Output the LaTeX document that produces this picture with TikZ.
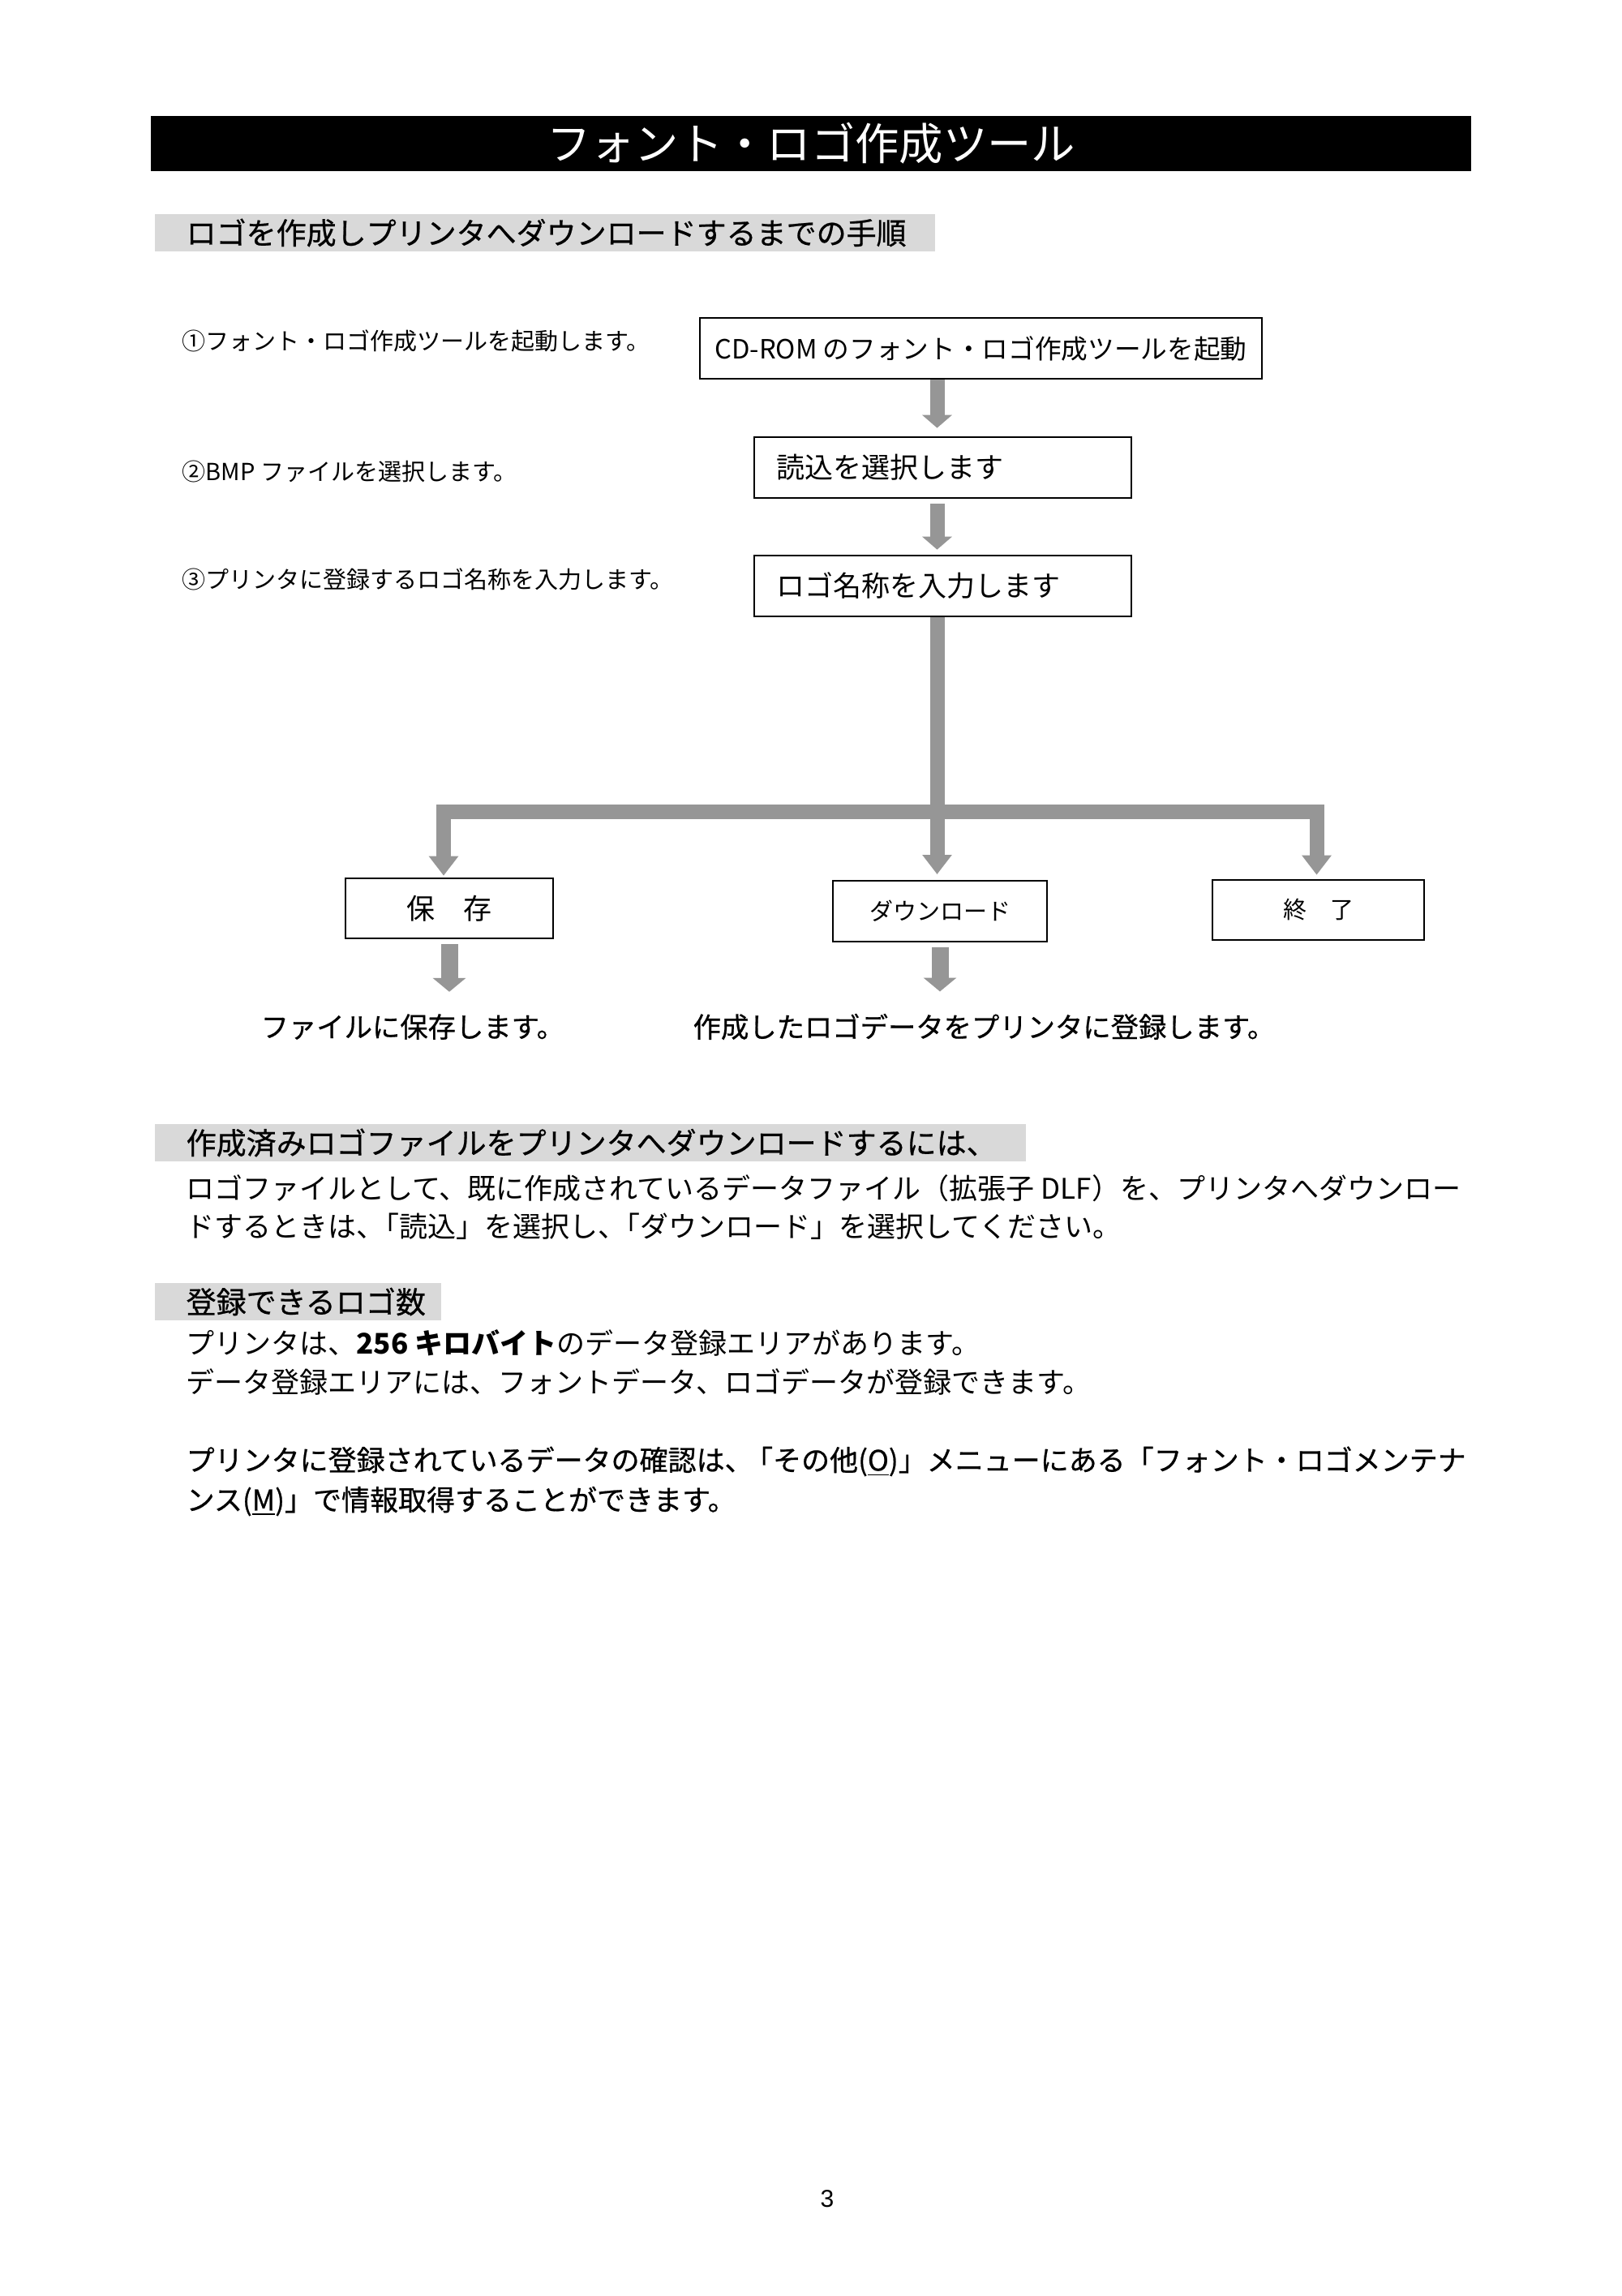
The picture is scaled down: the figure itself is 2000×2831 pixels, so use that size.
\documentclass[tikz,border=0pt]{standalone}
\usepackage{fontspec}
\usepackage{xcolor}
\usepackage{tikz}
\usetikzlibrary{arrows.meta}
\setmainfont{Noto Sans CJK JP}
\newfontfamily\medfont{Noto Sans CJK JP}[FakeBold=0.6]
\newfontfamily\numfont{Liberation Sans}
\definecolor{arrowgray}{RGB}{150,150,150}
\definecolor{hdrgray}{RGB}{217,217,217}
\newcommand{\setfs}[1]{\fontsize{#1}{#1}\selectfont}

\begin{document}
\begin{tikzpicture}[x=0.3pt, y=-0.3pt, every node/.style={inner sep=0pt}]
    \tikzstyle{box}=[draw=black, line width=0.8pt, fill=white, minimum height=22.5pt, align=center]
    \tikzstyle{hdr}=[fill=hdrgray, anchor=west, inner xsep=11.7pt, minimum height=13.8pt, align=left, font=\medfont\setfs{11.1pt}]
    \tikzstyle{line}=[anchor=west, font=\setfs{10.5pt}]
    \tikzstyle{stepnote}=[anchor=west, font=\setfs{8.7pt}]
    \tikzstyle{fat}=[draw=arrowgray, line width=5.4pt, line join=miter]
    \tikzstyle{fatb}=[draw=arrowgray, line width=6.3pt, -{Triangle[width=12pt, length=5.1pt]}, shorten <=1.8pt, shorten >=8pt]
    \useasboundingbox (0,0) rectangle (2000,2831);
    \node[fill=black, text=white, minimum width=488.4pt, minimum height=20.4pt, font=\setfs{16.3pt}] (title) at (1000,177) {フォント・ロゴ作成ツール};
    \node[hdr, text width=265.2pt] (hdrsteps) at (190,287) {ロゴを作成しプリンタへダウンロードするまでの手順};
    \node[stepnote] (note1) at (224,420) {①フォント・ロゴ作成ツールを起動します。};
    \node[stepnote] (note2) at (224,581) {②BMP ファイルを選択します。};
    \node[stepnote] (note3) at (224,714) {③プリンタに登録するロゴ名称を入力します。};
    \node[box, minimum width=207.9pt, font=\setfs{9.8pt}] (start) at (1209.5,429.5) {CD-ROM のフォント・ロゴ作成ツールを起動};
    \node[box, text width=123.3pt, inner xsep=8.1pt, align=left, font=\setfs{10.5pt}] (load) at (1162.5,576.5) {読込を選択します};
    \node[box, text width=123.3pt, inner xsep=8.1pt, align=left, font=\setfs{10.5pt}] (name) at (1162.5,722.5) {ロゴ名称を入力します};
    \node[box, minimum width=76.8pt, minimum height=22.2pt, font=\setfs{10.5pt}] (save) at (554,1120) {保　存};
    \node[box, minimum width=79.2pt, font=\setfs{8.7pt}] (dload) at (1159,1123.5) {ダウンロード};
    \node[box, minimum width=78.3pt, minimum height=22.2pt, font=\setfs{8.7pt}] (quit) at (1625.5,1122) {終　了};
    \node[anchor=west, font=\medfont\setfs{10.3pt}] (savetxt) at (321,1266) {ファイルに保存します。};
    \node[anchor=west, font=\medfont\setfs{10.3pt}] (regtxt) at (854,1266) {作成したロゴデータをプリンタに登録します。};
    \coordinate (spine) at (1155.5,0);
    \coordinate (bar) at (1155.5,1001);
    \coordinate (dl) at (547,1001);
    \coordinate (dr) at (1623.5,1001);
    \draw[fat, -{Triangle[width=10.8pt, length=4.8pt]}, shorten >=3pt] (start.south -| spine) -- (load.north -| spine);
    \draw[fat, -{Triangle[width=10.8pt, length=4.8pt]}, shorten <=1.8pt, shorten >=1.8pt] (load.south -| spine) -- (name.north -| spine);
    \draw[fat] (name.south -| spine) -- (bar);
    \draw[fat, -{Triangle[width=10.5pt, length=7.2pt]}, shorten >=0.6pt] (bar) -| (dl |- save.north);
    \draw[fat, -{Triangle[width=10.5pt, length=7.2pt]}, shorten >=2pt] (bar) -- (bar |- dload.north);
    \draw[fat, -{Triangle[width=10.5pt, length=7.2pt]}, shorten >=1.5pt] (bar) -| (dr |- quit.north);
    \draw[fatb] (save.south) -- (save.south |- savetxt.north);
    \draw[fatb] (dload.south) -- (dload.south |- regtxt.north);
    \node[hdr, text width=298.8pt] (hdrfile) at (190,1409) {作成済みロゴファイルをプリンタへダウンロードするには、};
    \node[line] (file1) at (229,1465) {ロゴファイルとして、既に作成されているデータファイル（拡張子 DLF）を、プリンタへダウンロー};
    \node[line] (file2) at (229,1512) {ドするときは、\hspace{-0.5em}「読込」を選択し、\hspace{-0.5em}「ダウンロード」を選択してください。};
    \node[hdr, text width=82.5pt] (hdrcount) at (190,1605) {登録できるロゴ数};
    \node[line] (count1) at (229,1656) {プリンタは、{\bfseries 256 キロバイト}のデータ登録エリアがあります。};
    \node[line] (count2) at (229,1704) {データ登録エリアには、フォントデータ、ロゴデータが登録できます。};
    \node[line, font=\medfont\setfs{10.5pt}] (check1) at (229,1802) {プリンタに登録されているデータの確認は、\hspace{-0.3em}「その他(\underline{O})」メニューにある「フォント・ロゴメンテナ};
    \node[line, font=\medfont\setfs{10.5pt}] (check2) at (229,1851) {ンス(\underline{M})」で情報取得することができます。};
    \node[font=\numfont\setfs{9pt}] (pgno) at (1020,2711) {3};
\end{tikzpicture}
\end{document}
